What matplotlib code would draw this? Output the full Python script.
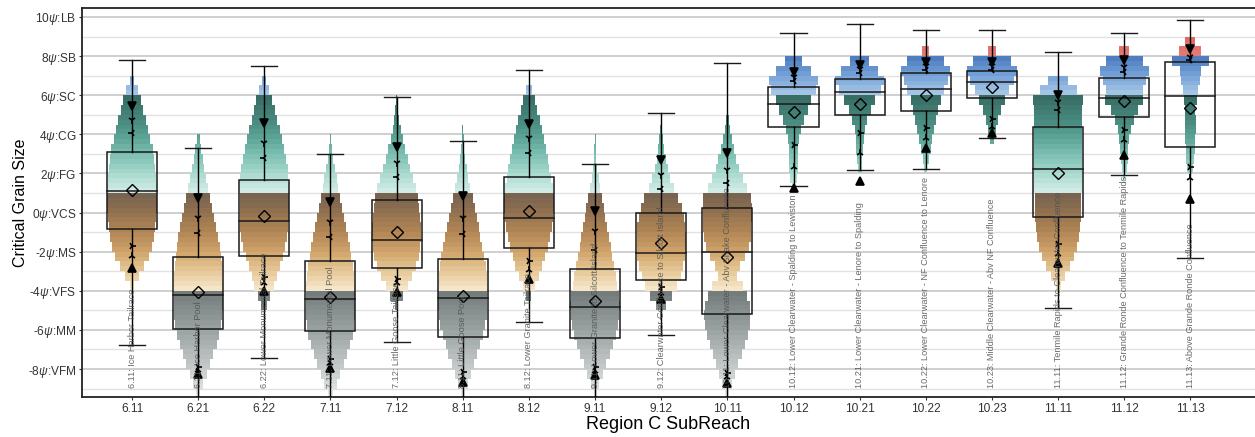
#!/usr/bin/env python3
# -*- coding: utf-8 -*-

"""
Critical grain size by Region C subreach.

Stepped violins (coloured by grain class) with box plots, whiskers,
percentile markers and the mean as an open diamond.
Output: out.png (1255 x 437 px)
"""

import numpy as np
import matplotlib
matplotlib.use("Agg")
import matplotlib.pyplot as plt
from matplotlib.patches import Rectangle
from matplotlib.colors import to_rgb

plt.rcParams["font.family"] = ["Liberation Sans", "DejaVu Sans"]
plt.rcParams["mathtext.fontset"] = "custom"
plt.rcParams["mathtext.rm"] = "Liberation Sans"
plt.rcParams["mathtext.it"] = "Liberation Sans:italic"

# ---------------------------------------------------------------- data
codes = ["6.11", "6.21", "6.22", "7.11", "7.12", "8.11", "8.12", "9.11", "9.12",
         "10.11", "10.12", "10.21", "10.22", "10.23", "11.11", "11.12", "11.13"]

names = ["Ice Harbor Tailrace", "Ice Harbor Pool", "Lower Monumental Tailrace",
         "Lower Monumental Pool", "Little Goose Tailrace", "Little Goose Pool",
         "Lower Granite Tailrace", "Lower Granite to Silcott Island",
         "Clearwater Confluence to Silcott Island",
         "Lower Clearwater - Abv Snake Confluence",
         "Lower Clearwater - Spalding to Lewiston",
         "Lower Clearwater - Lenore to Spalding",
         "Lower Clearwater - NF Confluence to Lenore",
         "Middle Clearwater - Abv NF Confluence",
         "Tenmile Rapids to Clearwater Confluence",
         "Grande Ronde Confluence to Tenmile Rapids",
         "Above Grande Ronde Confluence"]

# box plot stats (psi)
q1 = [-0.84, -5.95, -2.22, -6.05, -2.83, -6.36, -1.81, -6.41, -3.45,
      -5.18, 4.38, 4.99, 5.19, 5.86, -0.22, 4.89, 3.35]
median = [1.12, -4.21, -0.43, -4.42, -1.40, -4.37, -0.28, -4.83, -2.07,
          -2.01, 5.55, 6.17, 6.32, 6.68, 2.23, 5.86, 5.96]
q3 = [3.10, -2.27, 1.66, -2.47, 0.64, -2.37, 1.82, -2.88, -0.02,
      0.23, 6.42, 6.83, 7.14, 7.24, 4.38, 6.88, 7.70]
mean = [1.15, -4.06, -0.17, -4.30, -0.99, -4.26, 0.08, -4.52, -1.55,
        -2.27, 5.14, 5.55, 6.00, 6.42, 2.02, 5.71, 5.35]
whisk_lo = [-6.77, -10.5, -7.43, -10.5, -6.60, -10.5, -5.60, -10.5, -6.26,
            -10.5, 1.36, 2.18, 2.23, 3.81, -4.88, 1.92, -2.32]
whisk_hi = [7.80, 3.30, 7.50, 3.00, 5.91, 3.66, 7.29, 2.48, 5.09,
            7.65, 9.18, 9.64, 9.34, 9.34, 8.21, 9.18, 9.85]

# percentile markers above the box (v, tri_down, tri_left)
upper_marks = [[5.45, 4.73, 4.07], [0.75, -0.28, -1.04], [4.58, 3.55, 2.79],
               [0.54, -0.48, -1.25], [3.35, 2.53, 1.82], [0.85, -0.28, -1.09],
               [4.53, 3.81, 3.05], [0.08, -0.94, -1.90], [2.69, 1.92, 1.20],
               [3.05, 2.18, 1.51], [7.19, 6.93, 6.73], [7.55, 7.34, 7.14],
               [7.70, 7.50, 7.30], [7.70, 7.50, 7.30], [6.01, 5.65, 5.25],
               [7.80, 7.44, 7.19], [8.36, 7.95, 7.80]]
# percentile markers below the box (tri_right, tri_up, ^)
lower_marks = [[-1.71, -2.22, -2.83], [-7.90, -8.05, -8.25], [-3.30, -3.60, -4.00],
               [-7.50, -7.70, -7.95], [-3.39, -3.60, -4.06], [-8.15, -8.40, -8.66],
               [-2.47, -2.93, -3.39], [-7.90, -8.10, -8.30], [-3.80, -4.10, -4.40],
               [-8.20, -8.40, -8.70], [3.46, 2.33, 1.26], [4.07, 3.05, 1.61],
               [4.33, 3.81, 3.30], [4.80, 4.40, 4.07], [-1.60, -2.10, -2.60],
               [4.22, 3.71, 2.94], [2.33, 1.77, 0.70]]

# violin profiles: lower edge of first 0.5-psi bin, then relative half-widths
violin_start = [-4.0, -9.5, -5.0, -9.5, -5.0, -9.5, -4.5, -9.5, -5.5,
                -9.5, 1.0, 2.0, 2.0, 3.5, -4.0, 1.5, 2.0]
violin_widths = [
    [0.10, 0.30, 0.50, 0.70, 0.82, 0.90, 0.95, 0.98, 1.00, 1.00, 1.00, 0.98,
     0.95, 0.90, 0.84, 0.75, 0.65, 0.55, 0.45, 0.36, 0.25, 0.10],
    [0.08, 0.20, 0.35, 0.50, 0.62, 0.75, 0.85, 0.93, 0.98, 1.00, 1.00, 1.00,
     0.98, 0.95, 0.92, 0.88, 0.80, 0.72, 0.64, 0.56, 0.48, 0.40, 0.32, 0.25,
     0.18, 0.12, 0.06],
    [0.12, 0.25, 0.40, 0.50, 0.62, 0.75, 0.86, 0.93, 0.97, 1.00, 1.00, 1.00,
     1.00, 0.98, 0.95, 0.88, 0.80, 0.72, 0.62, 0.52, 0.42, 0.32, 0.20, 0.08],
    [0.10, 0.25, 0.40, 0.55, 0.68, 0.80, 0.90, 0.96, 1.00, 1.00, 1.00, 0.98,
     0.95, 0.90, 0.85, 0.80, 0.72, 0.64, 0.56, 0.48, 0.40, 0.32, 0.25, 0.18,
     0.12, 0.07, 0.03],
    [0.05, 0.25, 0.45, 0.62, 0.78, 0.90, 0.97, 1.00, 1.00, 0.97, 0.93, 0.86,
     0.78, 0.68, 0.56, 0.45, 0.34, 0.24, 0.16, 0.10, 0.05, 0.02],
    [0.08, 0.20, 0.32, 0.45, 0.58, 0.70, 0.82, 0.92, 0.98, 1.00, 1.00, 1.00,
     0.98, 0.94, 0.88, 0.80, 0.72, 0.64, 0.56, 0.48, 0.40, 0.30, 0.22, 0.16,
     0.11, 0.07, 0.04, 0.02],
    [0.10, 0.25, 0.40, 0.55, 0.66, 0.76, 0.85, 0.92, 0.97, 1.00, 1.00, 0.96,
     0.90, 0.83, 0.76, 0.70, 0.62, 0.54, 0.44, 0.34, 0.24, 0.12],
    [0.06, 0.18, 0.32, 0.46, 0.60, 0.73, 0.85, 0.94, 0.99, 1.00, 0.96, 0.90,
     0.84, 0.77, 0.70, 0.63, 0.56, 0.49, 0.42, 0.35, 0.28, 0.20, 0.14, 0.09,
     0.05, 0.03, 0.02, 0.01],
    [0.05, 0.20, 0.45, 0.65, 0.80, 0.90, 0.97, 1.00, 1.00, 0.98, 0.92, 0.83,
     0.68, 0.50, 0.36, 0.26, 0.18, 0.12, 0.08, 0.04, 0.02],
    [0.08, 0.20, 0.32, 0.45, 0.60, 0.72, 0.84, 0.92, 0.93, 0.90, 0.80, 0.62,
     0.40, 0.50, 0.72, 0.88, 0.95, 0.98, 1.00, 1.00, 0.97, 0.80, 0.62, 0.48,
     0.36, 0.26, 0.18, 0.11, 0.06, 0.03],
    [0.08, 0.15, 0.17, 0.18, 0.20, 0.24, 0.30, 0.42, 0.58, 0.72, 0.92, 1.00,
     0.70, 0.35],
    [0.08, 0.10, 0.13, 0.16, 0.20, 0.30, 0.45, 0.62, 0.85, 1.00, 0.75, 0.40],
    [0.06, 0.12, 0.20, 0.27, 0.35, 0.42, 0.50, 0.62, 0.75, 0.90, 1.00, 0.75,
     0.15],
    [0.08, 0.15, 0.25, 0.38, 0.52, 0.70, 0.88, 1.00, 0.78, 0.15],
    [0.10, 0.30, 0.50, 0.65, 0.78, 0.86, 0.90, 0.93, 0.95, 0.95, 0.97, 0.97,
     0.98, 0.98, 0.98, 0.98, 0.98, 0.98, 0.98, 1.00, 0.75, 0.40],
    [0.05, 0.10, 0.14, 0.17, 0.20, 0.26, 0.38, 0.55, 0.78, 0.75, 0.87, 1.00,
     0.75, 0.20],
    [0.12, 0.16, 0.18, 0.20, 0.22, 0.22, 0.20, 0.26, 0.30, 0.38, 0.42, 0.75,
     0.45, 0.20],
]

ytick_vals = [10, 8, 6, 4, 2, 0, -2, -4, -6, -8]
ytick_labels = [r"10$\psi$:LB", r"8$\psi$:SB", r"6$\psi$:SC", r"4$\psi$:CG",
                r"2$\psi$:FG", r"0$\psi$:VCS", r"-2$\psi$:MS", r"-4$\psi$:VFS",
                r"-6$\psi$:MM", r"-8$\psi$:VFM"]

# colour ramp per grain class (mud / sand / gravel / cobble / boulder)
COLOR_STOPS = [
    (-10.0, "#f3f5f5"), (-8.0, "#c6cccb"), (-6.0, "#9aa3a2"), (-4.001, "#717b7a"),
    (-4.0, "#f7ead0"), (-3.0, "#e6c896"), (-2.0, "#d0a46b"), (-1.0, "#b18555"),
    (0.0, "#92714f"), (1.0, "#746151"),
    (1.001, "#d4ede7"), (2.0, "#a8d9ce"), (3.0, "#7bbfb1"), (4.0, "#569d90"),
    (5.0, "#448278"), (6.0, "#366a62"),
    (6.001, "#a9c9e7"), (7.0, "#77a3d7"), (8.0, "#4a78bc"),
    (8.001, "#e47c78"), (10.0, "#d9534f"),
]

BIN = 0.5
MAX_HALF = 0.372   # violin half width at its widest, in category units
BOX_HALF = 0.378
CAP_HALF = 0.197


def grain_color(phi):
    """Colour of a violin slice centred at phi."""
    xs = np.array([s[0] for s in COLOR_STOPS])
    rgb = np.array([to_rgb(s[1]) for s in COLOR_STOPS])
    return tuple(np.interp(phi, xs, rgb[:, k]) for k in range(3))


def draw_violin(ax, x, start, widths):
    """Stepped violin; each 0.5 bin drawn as two 0.25 slices for the colour ramp."""
    for j, w in enumerate(widths):
        lo = start + j * BIN
        hw = w * MAX_HALF
        for sub in range(2):
            y0 = lo + sub * BIN / 2
            ax.barh(y0, 2 * hw, left=x - hw, height=BIN / 2, align="edge",
                    color=grain_color(y0 + BIN / 4), linewidth=0, zorder=2)


def main():
    fig = plt.figure(figsize=(12.55, 4.37), dpi=100)
    ax = fig.add_axes([82 / 1255, 1 - 397 / 437, (1255 - 82) / 1255, (397 - 8) / 437])

    xs = np.arange(len(codes))

    for i, x in enumerate(xs):
        draw_violin(ax, x, violin_start[i], violin_widths[i])

        # box, median, whiskers and caps
        ax.add_patch(Rectangle((x - BOX_HALF, q1[i]), 2 * BOX_HALF, q3[i] - q1[i],
                               fill=False, ec="#1a1a1a", lw=1.1, zorder=4))
        ax.plot([x - BOX_HALF, x + BOX_HALF], [median[i]] * 2, color="#1a1a1a", lw=1.1, zorder=4)
        ax.plot([x, x], [q3[i], whisk_hi[i]], color="black", lw=1.0, zorder=4)
        ax.plot([x, x], [whisk_lo[i], q1[i]], color="black", lw=1.0, zorder=4)
        for w in (whisk_lo[i], whisk_hi[i]):
            ax.plot([x - CAP_HALF, x + CAP_HALF], [w, w], color="#1a1a1a", lw=1.0, zorder=4)

        # percentile markers
        for v, m in zip(upper_marks[i], ["v", "1", "3"]):
            ax.plot(x, v, marker=m, color="black", ms=6, mew=1.2, zorder=5)
        for v, m in zip(lower_marks[i], ["4", "2", "^"]):
            ax.plot(x, v, marker=m, color="black", ms=6, mew=1.2, zorder=5)

        # mean
        ax.plot(x, mean[i], marker="D", ms=6, mfc="none", mec="black", mew=1.0, zorder=5)

        # subreach name, rotated inside its column
        ax.text(x, -8.95, f"{codes[i]}: {names[i]}", rotation=90, ha="center", va="bottom",
                fontsize=6.6, color="#505050", alpha=0.85, zorder=6)

    ax.set_xlim(-0.756, (1255 - 132) / 66.15)
    ax.set_ylim(-9.43, 10.46)
    ax.set_xticks(xs)
    ax.set_xticklabels(codes)
    ax.set_yticks(ytick_vals)
    ax.set_yticklabels(ytick_labels)
    ax.set_yticks(np.arange(-9, 11, 2), minor=True)

    ax.set_axisbelow(True)
    ax.grid(which="major", axis="y", color="#cccccc", lw=1.3)
    ax.grid(which="minor", axis="y", color="#e2e2e2", lw=1.0)
    ax.tick_params(axis="both", which="major", labelsize=8.6, labelcolor="#333333",
                   length=2, color="#333333", pad=2)
    ax.tick_params(axis="y", which="minor", length=0)

    for side in ("left", "bottom", "top"):
        ax.spines[side].set_linewidth(1.3)
        ax.spines[side].set_color("#222222")
    ax.spines["right"].set_visible(False)

    ax.set_xlabel("Region C SubReach", fontsize=13, labelpad=1)
    ax.set_ylabel("Critical Grain Size", fontsize=11.5)
    ax.yaxis.set_label_coords(-0.046, 0.5)

    fig.savefig("out.png", dpi=100)


if __name__ == "__main__":
    main()
